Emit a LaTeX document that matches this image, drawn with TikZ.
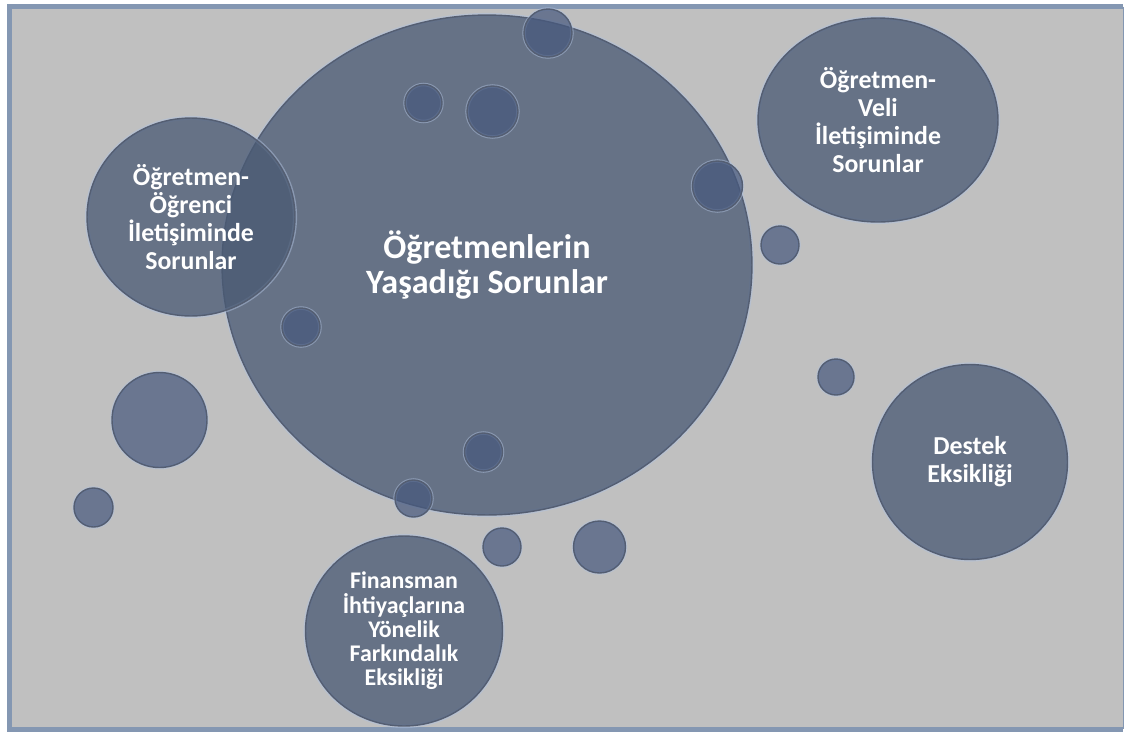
\documentclass[tikz,border=0pt]{standalone}
\usepackage{fontspec}
\setmainfont{Carlito}
\usetikzlibrary{shapes.geometric}
\definecolor{bgray}{RGB}{192,192,192}
\definecolor{frameblue}{RGB}{132,151,178}
\definecolor{bubblefill}{RGB}{73,89,115}
\definecolor{bubbleedge}{RGB}{84,94,114}
\definecolor{rimblue}{RGB}{175,192,222}
\definecolor{dropfill}{RGB}{70,88,125}
\tikzset{
  bubble/.style={ellipse, inner sep=0pt, fill=bubblefill, fill opacity=0.75, text opacity=1,
    draw=bubbleedge, line width=0.8pt, preaction={draw=rimblue, draw opacity=0.5, line width=2.4pt},
    text=white, align=center, font=\bfseries\fontsize{14.7pt}{15.9pt}\selectfont},
  drop/.style={fill=dropfill, fill opacity=0.7, draw=bubbleedge, line width=0.8pt,
    preaction={draw=rimblue, draw opacity=0.5, line width=2pt}}
}
\begin{document}
\begin{tikzpicture}[x=0.02cm, y=-0.02cm]
  \useasboundingbox (0,0) rectangle (1125,731);
  \fill[bgray] (9.5,6.5) rectangle (1123,729);
  \draw[frameblue, line width=0.1cm] (1123,6.5) -- (9.5,6.5) -- (9.5,729) -- (1123,729);
  \draw[frameblue, line width=0.02cm] (1123,6.5) -- (1123,729);
  \node[bubble, minimum width=10.6cm, minimum height=10cm,
        font=\bfseries\fontsize{19.4pt}{20pt}\selectfont] (problems) at (487,265)
        {Öğretmenlerin\\Yaşadığı Sorunlar};
  \node[bubble, minimum width=4.16cm, minimum height=3.96cm] (student) at (191,217)
        {Öğretmen-\\Öğrenci\\İletişiminde\\Sorunlar};
  \node[bubble, minimum width=4.8cm, minimum height=4.08cm] (parent) at (878,120)
        {Öğretmen-\\Veli\\İletişiminde\\Sorunlar};
  \node[bubble, minimum width=3.9cm, minimum height=3.9cm] (support) at (970,462)
        {Destek\\Eksikliği};
  \node[bubble, minimum width=3.94cm, minimum height=3.8cm,
        font=\bfseries\fontsize{13.6pt}{13.8pt}\selectfont] (finance) at (404,631)
        {Finansman\\İhtiyaçlarına\\Yönelik\\Farkındalık\\Eksikliği};
  \foreach \x/\y/\r in {548/33/24, 423.5/103/18.5, 492.5/111.5/25.5, 717.5/186/25,
      780/245/19, 301/327/19, 836/377/18, 159.5/420/47.5, 93.5/507.5/19.5,
      483.5/452/19, 413.5/498.5/18.5, 502/547/19, 599.5/547/26}
    \draw[drop] (\x,\y) circle[radius=\r*0.02cm];
\end{tikzpicture}
\end{document}
